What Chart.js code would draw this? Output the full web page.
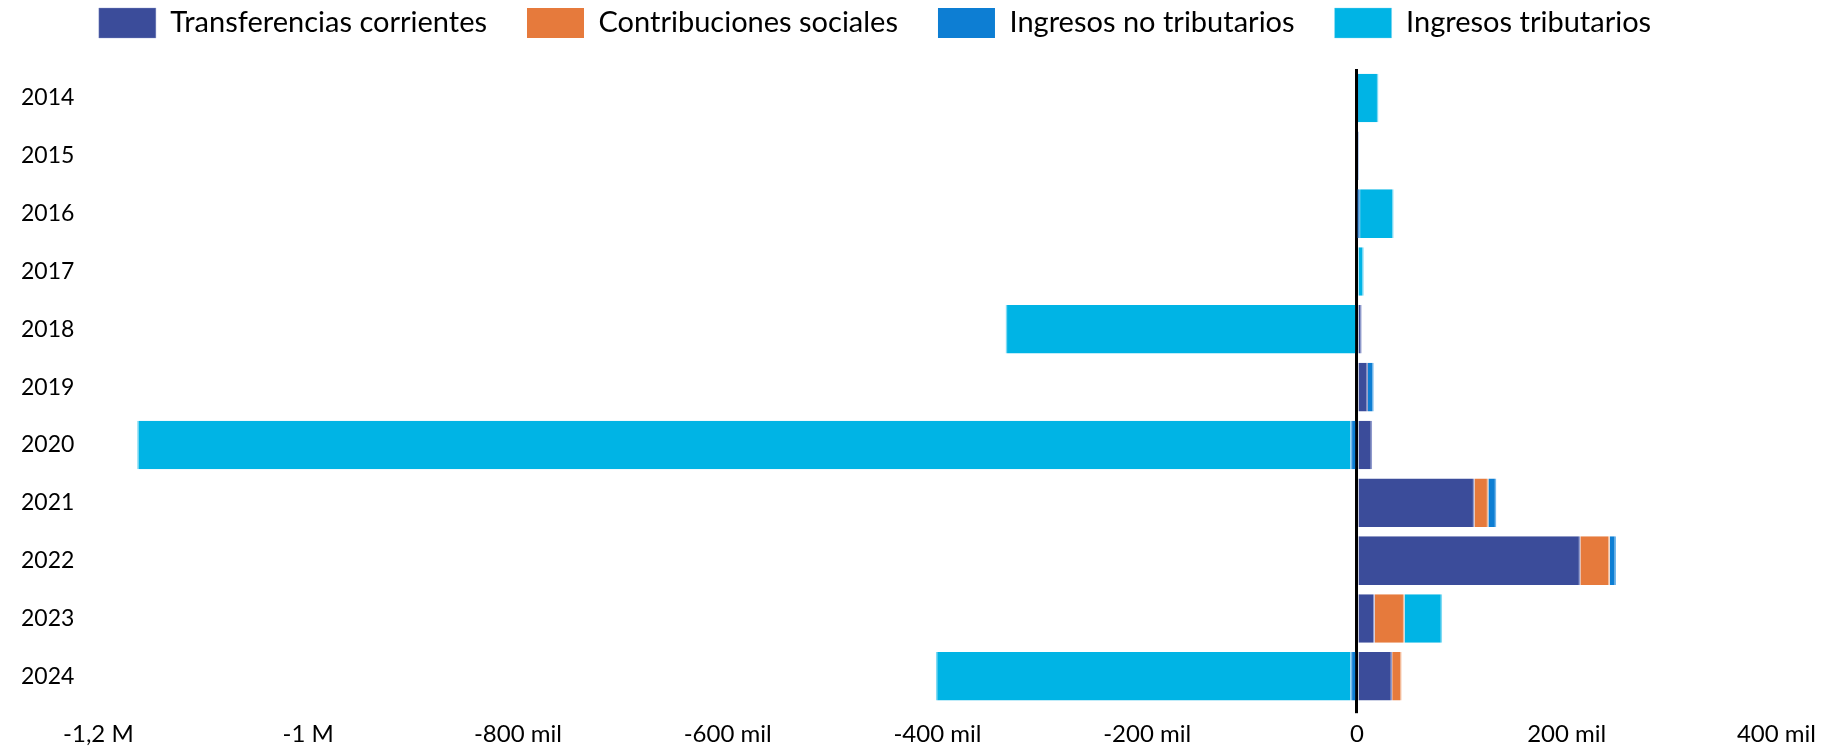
<!DOCTYPE html>
<html>
<head>
<meta charset="utf-8">
<script src="https://cdn.jsdelivr.net/npm/chart.js@4"></script>
<style>
  body { margin: 0; background: #fff; }
  #wrap { width: 1823px; height: 747px; }
</style>
</head>
<body>
<div id="wrap"><canvas id="chart"></canvas></div>
<script>
const years = ['2014', '2015', '2016', '2017', '2018', '2019', '2020', '2021', '2022', '2023', '2024'];

const transferencias = [1000, 1000, 500, 0, 4500, 10500, 14500, 112000, 213000, 16800, 33600];
const contribuciones = [0, 0, 0, 0, 0, 0, 0, 13300, 28000, 28500, 9000];
const noTributarios = [0, 500, 2500, 0, -1500, 5500, -6000, 7600, 6000, 0, -6000];
const tributarios = [19500, 0, 32000, 6500, -333500, 0, -1157000, 0, 0, 36000, -395500];

const xTicks = [-1200000, -1000000, -800000, -600000, -400000, -200000, 0, 200000, 400000];

// lighter edge at the outer end of each segment
const edge = (ctx) => {
  const v = ctx.raw;
  if (!v) return 0;
  return v > 0 ? { right: 1.5 } : { left: 1.5 };
};

const makeSet = (label, data, color, light) => ({
  label,
  data,
  backgroundColor: color,
  borderColor: light,
  borderWidth: edge,
  borderSkipped: false,
  categoryPercentage: 1,
  barPercentage: 0.84
});

const fmt = (v) => {
  if (v === 0) return '0';
  if (Math.abs(v) >= 1000000) return String(v / 1000000).replace('.', ',') + ' M';
  return (v / 1000) + ' mil';
};

const font = 'Lato';

// extra room under the legend and a small shift to the left
const legendTweak = {
  id: 'legendTweak',
  beforeUpdate(chart) {
    const lg = chart.legend;
    if (lg && !lg._patched) {
      const fit = lg.fit;
      lg.fit = function () {
        fit.call(this);
        this.height += 21;
      };
      lg._patched = true;
    }
  },
  afterLayout(chart) {
    const lg = chart.legend;
    if (lg) {
      lg.left -= 15;
      lg.right -= 15;
    }
  }
};

new Chart(document.getElementById('chart'), {
  type: 'bar',
  data: {
    labels: years,
    datasets: [
      makeSet('Transferencias corrientes', transferencias, '#3B4C9A', '#8F99CC'),
      makeSet('Contribuciones sociales', contribuciones, '#E67A3C', '#F4BC98'),
      makeSet('Ingresos no tributarios', noTributarios, '#0D7ED3', '#74B6EA'),
      makeSet('Ingresos tributarios', tributarios, '#00B4E5', '#80DAF3')
    ]
  },
  plugins: [legendTweak],
  options: {
    indexAxis: 'y',
    responsive: true,
    maintainAspectRatio: false,
    animation: false,
    layout: { padding: { left: -3, right: 40, top: -32, bottom: -9 } },
    plugins: {
      legend: {
        position: 'top',
        labels: {
          boxWidth: 57,
          boxHeight: 30,
          padding: 40,
          color: '#000',
          font: { family: font, size: 29 }
        }
      },
      tooltip: { enabled: false }
    },
    scales: {
      x: {
        stacked: true,
        min: -1200000,
        max: 400000,
        z: 1,
        afterBuildTicks: (axis) => {
          axis.ticks = xTicks.map(v => ({ value: v }));
        },
        ticks: {
          color: '#000',
          padding: 7,
          maxRotation: 0,
          font: { family: font, size: 24 },
          callback: (v) => fmt(v)
        },
        grid: {
          color: (ctx) => ctx.tick && ctx.tick.value === 0 ? '#000' : 'rgba(0,0,0,0)',
          lineWidth: 3,
          tickLength: 8
        },
        border: { display: false }
      },
      y: {
        stacked: true,
        ticks: {
          color: '#000',
          padding: 24,
          font: { family: font, size: 23 }
        },
        grid: { display: false, drawTicks: false },
        border: { display: false }
      }
    }
  }
});
</script>
</body>
</html>
